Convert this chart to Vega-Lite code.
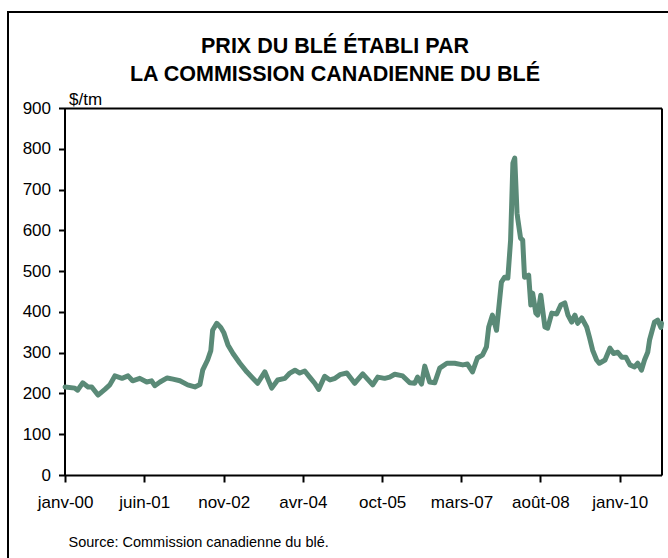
{
  "$schema": "https://vega.github.io/schema/vega-lite/v6.json",
  "width": 670,
  "height": 556,
  "autosize": {"type": "none"},
  "padding": {"left": 8, "top": 12, "right": 0, "bottom": 0},
  "background": "white",
  "config": {"view": {"stroke": "black", "strokeWidth": 2}, "font": "Liberation Sans"},
  "title": {
    "text": ["PRIX DU BLÉ ÉTABLI PAR", "LA COMMISSION CANADIENNE DU BLÉ"],
    "font": "Liberation Sans",
    "fontSize": 21.5,
    "fontWeight": "bold",
    "lineHeight": 28,
    "anchor": "middle",
    "baseline": "alphabetic",
    "offset": -69,
    "dy": 21,
    "dx": -8,
    "color": "black"
  },
  "data": {
    "values": [
      {"date": "2000-01-05", "prix": 216},
      {"date": "2000-03-09", "prix": 213},
      {"date": "2000-03-27", "prix": 208},
      {"date": "2000-04-29", "prix": 226},
      {"date": "2000-06-03", "prix": 216},
      {"date": "2000-06-27", "prix": 216},
      {"date": "2000-08-07", "prix": 196},
      {"date": "2000-09-21", "prix": 210},
      {"date": "2000-10-23", "prix": 221},
      {"date": "2000-11-25", "prix": 243},
      {"date": "2001-01-11", "prix": 237},
      {"date": "2001-02-19", "prix": 243},
      {"date": "2001-03-21", "prix": 231},
      {"date": "2001-05-07", "prix": 237},
      {"date": "2001-06-21", "prix": 228},
      {"date": "2001-07-23", "prix": 231},
      {"date": "2001-08-13", "prix": 219},
      {"date": "2001-09-16", "prix": 228},
      {"date": "2001-11-02", "prix": 238},
      {"date": "2001-12-10", "prix": 235},
      {"date": "2002-01-24", "prix": 231},
      {"date": "2002-03-16", "prix": 221},
      {"date": "2002-05-02", "prix": 216},
      {"date": "2002-06-04", "prix": 222},
      {"date": "2002-06-22", "prix": 257},
      {"date": "2002-07-24", "prix": 282},
      {"date": "2002-08-14", "prix": 305},
      {"date": "2002-08-26", "prix": 355},
      {"date": "2002-09-22", "prix": 372},
      {"date": "2002-10-18", "prix": 362},
      {"date": "2002-11-08", "prix": 348},
      {"date": "2002-12-04", "prix": 319},
      {"date": "2003-01-06", "prix": 298},
      {"date": "2003-02-20", "prix": 274},
      {"date": "2003-04-06", "prix": 253},
      {"date": "2003-05-14", "prix": 238},
      {"date": "2003-06-16", "prix": 225},
      {"date": "2003-08-02", "prix": 253},
      {"date": "2003-09-16", "prix": 213},
      {"date": "2003-10-25", "prix": 233},
      {"date": "2003-12-11", "prix": 237},
      {"date": "2004-01-13", "prix": 250},
      {"date": "2004-02-15", "prix": 257},
      {"date": "2004-03-17", "prix": 250},
      {"date": "2004-04-19", "prix": 255},
      {"date": "2004-05-21", "prix": 240},
      {"date": "2004-06-23", "prix": 225},
      {"date": "2004-07-19", "prix": 210},
      {"date": "2004-08-27", "prix": 242},
      {"date": "2004-10-01", "prix": 233},
      {"date": "2004-11-03", "prix": 237},
      {"date": "2004-12-05", "prix": 246},
      {"date": "2005-01-19", "prix": 250},
      {"date": "2005-03-11", "prix": 225},
      {"date": "2005-05-03", "prix": 248},
      {"date": "2005-07-07", "prix": 221},
      {"date": "2005-08-09", "prix": 240},
      {"date": "2005-09-23", "prix": 237},
      {"date": "2005-10-26", "prix": 240},
      {"date": "2005-11-28", "prix": 247},
      {"date": "2006-01-19", "prix": 243},
      {"date": "2006-03-06", "prix": 226},
      {"date": "2006-04-08", "prix": 225},
      {"date": "2006-04-26", "prix": 240},
      {"date": "2006-05-22", "prix": 223},
      {"date": "2006-06-12", "prix": 267},
      {"date": "2006-07-14", "prix": 228},
      {"date": "2006-08-16", "prix": 226},
      {"date": "2006-09-18", "prix": 262},
      {"date": "2006-11-04", "prix": 274},
      {"date": "2006-12-24", "prix": 274},
      {"date": "2007-02-16", "prix": 270},
      {"date": "2007-03-18", "prix": 272},
      {"date": "2007-04-20", "prix": 253},
      {"date": "2007-05-22", "prix": 287},
      {"date": "2007-06-24", "prix": 294},
      {"date": "2007-07-20", "prix": 314},
      {"date": "2007-08-04", "prix": 363},
      {"date": "2007-08-28", "prix": 392},
      {"date": "2007-09-24", "prix": 355},
      {"date": "2007-10-26", "prix": 473},
      {"date": "2007-11-16", "prix": 485},
      {"date": "2007-12-07", "prix": 483},
      {"date": "2007-12-25", "prix": 576},
      {"date": "2008-01-09", "prix": 765},
      {"date": "2008-01-21", "prix": 777},
      {"date": "2008-02-05", "prix": 642},
      {"date": "2008-02-11", "prix": 625},
      {"date": "2008-02-28", "prix": 581},
      {"date": "2008-03-13", "prix": 576},
      {"date": "2008-03-25", "prix": 485},
      {"date": "2008-04-21", "prix": 490},
      {"date": "2008-05-05", "prix": 417},
      {"date": "2008-05-17", "prix": 446},
      {"date": "2008-06-07", "prix": 397},
      {"date": "2008-06-19", "prix": 392},
      {"date": "2008-07-09", "prix": 441},
      {"date": "2008-08-05", "prix": 363},
      {"date": "2008-08-23", "prix": 360},
      {"date": "2008-09-19", "prix": 397},
      {"date": "2008-10-21", "prix": 395},
      {"date": "2008-11-17", "prix": 417},
      {"date": "2008-12-13", "prix": 422},
      {"date": "2009-01-03", "prix": 392},
      {"date": "2009-01-27", "prix": 375},
      {"date": "2009-02-17", "prix": 392},
      {"date": "2009-03-07", "prix": 372},
      {"date": "2009-04-03", "prix": 385},
      {"date": "2009-05-05", "prix": 363},
      {"date": "2009-05-23", "prix": 338},
      {"date": "2009-06-13", "prix": 306},
      {"date": "2009-07-09", "prix": 282},
      {"date": "2009-07-27", "prix": 274},
      {"date": "2009-09-02", "prix": 282},
      {"date": "2009-10-04", "prix": 311},
      {"date": "2009-10-28", "prix": 298},
      {"date": "2009-11-24", "prix": 301},
      {"date": "2009-12-20", "prix": 289},
      {"date": "2010-01-16", "prix": 289},
      {"date": "2010-02-12", "prix": 270},
      {"date": "2010-03-14", "prix": 265},
      {"date": "2010-04-04", "prix": 274},
      {"date": "2010-04-28", "prix": 257},
      {"date": "2010-05-18", "prix": 282},
      {"date": "2010-06-08", "prix": 301},
      {"date": "2010-06-20", "prix": 331},
      {"date": "2010-07-22", "prix": 375},
      {"date": "2010-08-12", "prix": 380},
      {"date": "2010-09-02", "prix": 362},
      {"date": "2010-09-06", "prix": 372}
    ]
  },
  "layer": [
    {
      "mark": {"type": "line", "color": "#5A8A77", "strokeWidth": 5, "strokeJoin": "round", "strokeCap": "round"},
      "encoding": {
        "x": {
          "field": "date",
          "type": "temporal",
          "scale": {
            "domain": [{"year": 2000, "month": 1, "date": 1}, {"year": 2010, "month": 9, "date": 6}],
            "range": [56.5, 653.5]
          },
          "axis": {
            "orient": "bottom",
            "offset": -93,
            "values": [
              {"year": 2000, "month": 1, "date": 5},
              {"year": 2001, "month": 6, "date": 5},
              {"year": 2002, "month": 11, "date": 6},
              {"year": 2004, "month": 4, "date": 6},
              {"year": 2005, "month": 9, "date": 7},
              {"year": 2007, "month": 2, "date": 7},
              {"year": 2008, "month": 7, "date": 7},
              {"year": 2009, "month": 12, "date": 7}
            ],
            "labelExpr": "['janv-00','juin-01','nov-02','','avr-04','oct-05','','mars-07','août-08','janv-10',''][year(datum.value)-2000]",
            "labelFont": "Liberation Sans",
            "labelFontSize": 17,
            "labelColor": "black",
            "labelPadding": 12,
            "labelFlush": false,
            "labelOverlap": false,
            "domainColor": "black",
            "domainWidth": 2,
            "tickColor": "black",
            "tickWidth": 2,
            "tickSize": 7,
            "grid": false,
            "title": "Source: Commission canadienne du blé.",
            "titleFont": "Liberation Sans",
            "titleFontSize": 14.5,
            "titleFontWeight": "normal",
            "titleColor": "black",
            "titleX": 60,
            "titleY": 71,
            "titleAlign": "left",
            "titleAnchor": "start",
            "titleBaseline": "alphabetic"
          }
        },
        "y": {
          "field": "prix",
          "type": "quantitative",
          "scale": {"domain": [0, 900], "range": [463, 96], "nice": false, "zero": true},
          "axis": {
            "orient": "left",
            "offset": -56.5,
            "values": [0, 100, 200, 300, 400, 500, 600, 700, 800, 900],
            "labelFont": "Liberation Sans",
            "labelFontSize": 17,
            "labelColor": "black",
            "labelPadding": 8,
            "labelFlush": false,
            "domainColor": "black",
            "domainWidth": 2,
            "tickColor": "black",
            "tickWidth": 2,
            "tickSize": 6,
            "grid": false,
            "title": "$/tm",
            "titleFont": "Liberation Sans",
            "titleFontSize": 17,
            "titleFontWeight": "normal",
            "titleColor": "black",
            "titleAngle": 0,
            "titleX": 4,
            "titleY": 92,
            "titleAlign": "left",
            "titleBaseline": "alphabetic"
          }
        }
      }
    },
    {
      "mark": {"type": "line", "strokeOpacity": 0},
      "encoding": {
        "x": {
          "field": "date",
          "type": "temporal",
          "axis": {
            "orient": "top",
            "offset": -96,
            "domainColor": "black",
            "domainWidth": 2,
            "ticks": false,
            "labels": false,
            "grid": false,
            "title": null
          }
        },
        "y": {
          "field": "prix",
          "type": "quantitative",
          "axis": {
            "orient": "right",
            "offset": -16.5,
            "domainColor": "black",
            "domainWidth": 2,
            "ticks": false,
            "labels": false,
            "grid": false,
            "title": null
          }
        }
      }
    }
  ],
  "resolve": {"axis": {"x": "independent", "y": "independent"}}
}
